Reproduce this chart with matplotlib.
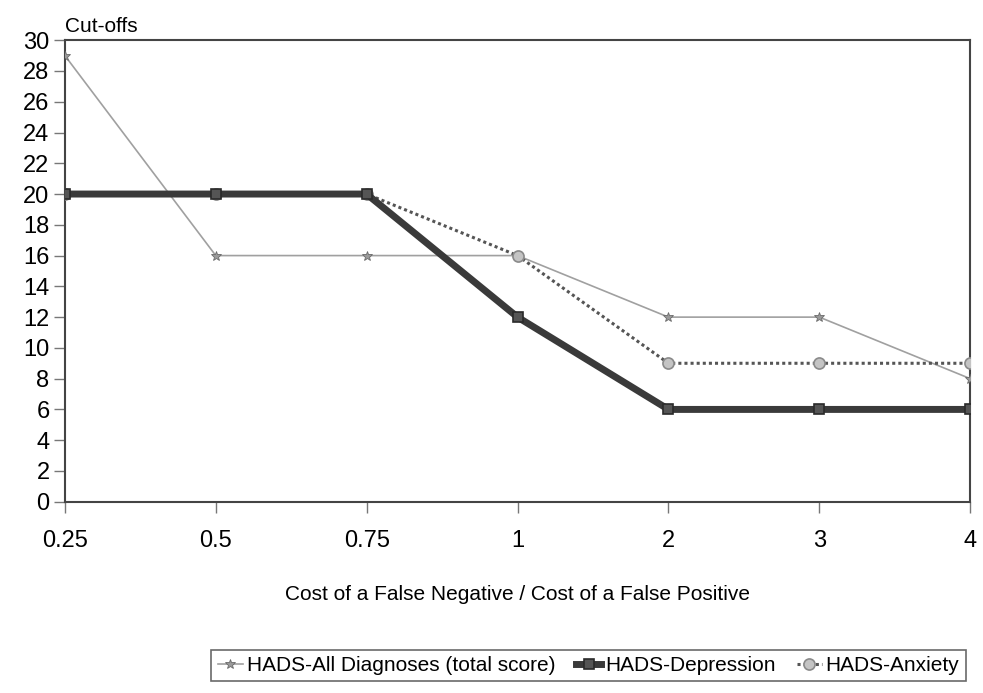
import numpy as np
import matplotlib
matplotlib.use('Agg')
import matplotlib.pyplot as plt
from matplotlib import rc

cost_ratios = ['0.25', '0.5', '0.75', '1', '2', '3', '4']
all_diagnoses = [29, 16, 16, 16, 12, 12, 8]
depression = [20, 20, 20, 12, 6, 6, 6]
anxiety = [20, 20, 20, 16, 9, 9, 9]

rc('font', family=['Liberation Sans', 'DejaVu Sans'], size=17)

fig = plt.figure(figsize=(9.83, 6.93), dpi=100)
ax = fig.add_axes([0.066, 0.276, 0.921, 0.666])

x = np.arange(len(cost_ratios))
ax.plot(x, all_diagnoses, color='#a0a0a0', lw=1.2, marker='*', ms=7,
        mfc='#9a9a9a', mec='#6a6a6a', mew=0.6,
        label='HADS-All Diagnoses (total score)', zorder=3)
ax.plot(x, depression, color='#3a3a3a', lw=5, marker='s', ms=7,
        mfc='#555555', mec='#2a2a2a', mew=1.2,
        label='HADS-Depression', zorder=4)
ax.plot(x, anxiety, color='#555555', lw=2.2, ls=(0, (1, 1)), marker='o', ms=8,
        mfc='#c4c4c4', mec='#8a8a8a', mew=1.2,
        label='HADS-Anxiety', zorder=3)

ax.set_xlim(0, len(cost_ratios) - 1)
ax.set_ylim(0, 30)
ax.set_xticks(x)
ax.set_xticklabels(cost_ratios)
ax.set_yticks(np.arange(0, 31, 2))
ax.tick_params(axis='both', direction='out', length=8, width=1, color='#777777', pad=3)
ax.tick_params(axis='x', pad=12)
for s in ax.spines.values():
    s.set_color('#444444')
    s.set_linewidth(1.5)

ax.set_xlabel('Cost of a False Negative / Cost of a False Positive', fontsize=15, labelpad=24)
fig.text(0.066, 0.962, 'Cut-offs', fontsize=15, ha='left', va='center')

leg = fig.legend(loc='lower right', bbox_to_anchor=(0.993, 0.002), ncol=3,
                 fontsize=15, frameon=True, fancybox=False, handlelength=1.2,
                 handletextpad=0.2, columnspacing=1.0, borderpad=0.3)
leg.get_frame().set_edgecolor('#444444')
leg.get_frame().set_linewidth(1.2)

fig.savefig('out.png', dpi=100)
